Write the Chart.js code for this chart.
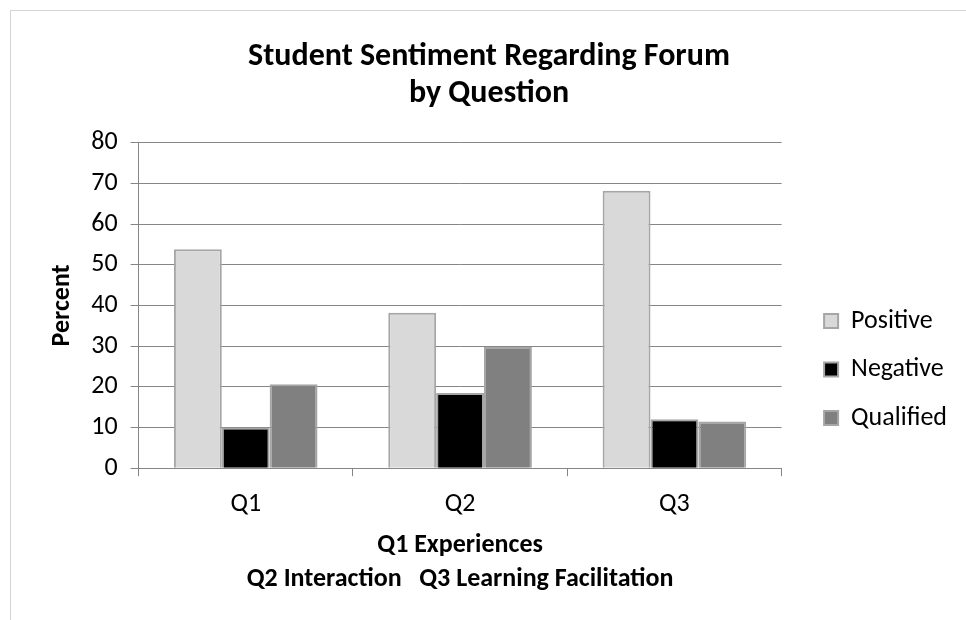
<!DOCTYPE html>
<html>
<head>
<meta charset="utf-8">
<script src="https://cdn.jsdelivr.net/npm/chart.js@4"></script>
<style>
  body { margin: 0; background: #fff; }
  #frame {
    position: absolute; left: 10px; top: 10px;
    width: 956px; height: 610px;
    border-left: 1px solid #d4d4d4; border-top: 1px solid #d4d4d4;
  }
</style>
</head>
<body>
<div id="frame"><canvas id="chart"></canvas></div>
<script>
const questions = ["Q1", "Q2", "Q3"];
const positive = [53.8, 38.2, 68.2];
const negative = [10.0, 18.5, 12.0];
const qualified = [20.6, 29.8, 11.5];
const yTicks = [0, 10, 20, 30, 40, 50, 60, 70, 80];

const font = "Carlito, Lato, sans-serif";
const gridColor = "#868686";

new Chart(document.getElementById("chart"), {
  type: "bar",
  data: {
    labels: questions,
    datasets: [
      { label: "Positive", data: positive, backgroundColor: "#d9d9d9", borderColor: "#a6a6a6", borderWidth: 2 },
      { label: "Negative", data: negative, backgroundColor: "#000000", borderColor: "#a6a6a6", borderWidth: 2 },
      { label: "Qualified", data: qualified, backgroundColor: "#808080", borderColor: "#a6a6a6", borderWidth: 2 },
    ],
  },
  options: {
    responsive: true,
    maintainAspectRatio: false,
    animation: false,
    datasets: { bar: { barPercentage: 1, categoryPercentage: 0.67 } },
    layout: { padding: { left: 10, right: 10, top: 28, bottom: 21 } },
    plugins: {
      tooltip: { enabled: false },
      title: {
        display: true,
        text: ["Student Sentiment Regarding Forum", "by Question"],
        color: "#000",
        font: { family: font, size: 32, weight: "bold", lineHeight: 1.15 },
        padding: { top: 0, bottom: 30 },
      },
      legend: {
        position: "right",
        title: { display: true, text: " ", padding: 34.5, font: { family: font, size: 26 } },
        labels: {
          color: "#000",
          font: { family: font, size: 26 },
          boxWidth: 14,
          boxHeight: 14,
          padding: 22.5,
        },
      },
    },
    scales: {
      x: {
        grid: { offset: true, drawOnChartArea: false, color: gridColor, tickLength: 8 },
        border: { color: gridColor },
        ticks: { color: "#000", font: { family: font, size: 26 }, padding: 13 },
        title: {
          display: true,
          text: ["Q1 Experiences", "Q2 Interaction   Q3 Learning Facilitation"],
          color: "#000",
          font: { family: font, size: 26, weight: "bold", lineHeight: 1.3 },
          padding: { top: -5, bottom: 4 },
        },
      },
      y: {
        min: 0,
        max: 80,
        afterBuildTicks: (scale) => { scale.ticks = yTicks.map((v) => ({ value: v })); },
        grid: { color: gridColor, tickLength: 8 },
        border: { color: gridColor },
        ticks: { color: "#000", font: { family: font, size: 26 }, padding: 13 },
        title: {
          display: true,
          text: "Percent",
          color: "#000",
          font: { family: font, size: 26, weight: "bold" },
          padding: { top: 26, bottom: 0 },
        },
      },
      // empty right axis, only keeps a gap between the plot and the legend
      y2: {
        position: "right",
        grid: { display: false },
        border: { display: false },
        ticks: { display: false },
        afterFit: (scale) => { scale.width = 20; },
      },
    },
  },
});
</script>
</body>
</html>
